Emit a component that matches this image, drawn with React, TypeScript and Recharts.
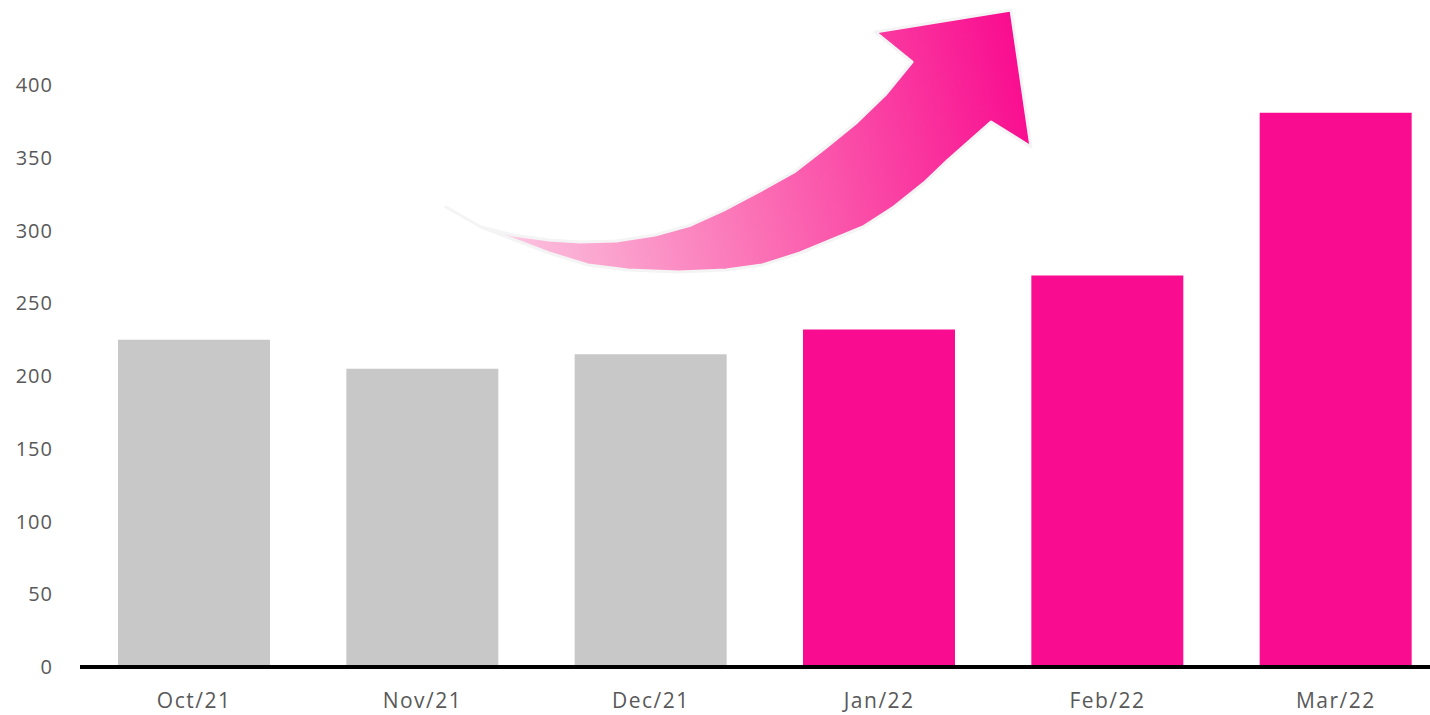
import { BarChart, Bar, XAxis, YAxis, Cell } from "recharts";

const months = ["Oct/21", "Nov/21", "Dec/21", "Jan/22", "Feb/22", "Mar/22"];
const values = [225, 205, 215, 232, 269, 381];
const barColors = ["#c8c8c8", "#c8c8c8", "#c8c8c8", "#f90c8f", "#f90c8f", "#f90c8f"];
const yTicks = [0, 50, 100, 150, 200, 250, 300, 350, 400];

const data = months.map((m, i) => ({ month: m, value: values[i] }));

// decorative arrow outline (page pixels)
const arrowPts = [
  [446, 207], [481, 227], [549, 253], [588, 265], [628, 270], [679, 272],
  [726, 270], [762, 265], [800, 253], [863, 227], [894, 207], [924, 183],
  [948, 160], [991, 122], [1031, 147], [1011, 10], [875, 32], [912, 62],
  [885, 95], [857, 122], [825, 148], [794, 172], [758, 192], [724, 210],
  [691, 225], [655, 235], [616, 241], [580, 242], [549, 240], [513, 235],
  [481, 227],
];

const xTickStyle = { fill: "#595959", fontSize: 21, fontFamily: "Open Sans", letterSpacing: 1.5 };
const yTickStyle = { fill: "#595959", fontSize: 20, fontFamily: "Open Sans", letterSpacing: 1 };

const App = () => {
  const d = "M" + arrowPts.map((p) => p.join(",")).join(" L") + " Z";
  return (
    <div
      style={{
        position: "absolute",
        left: 0,
        top: 0,
        width: 1430,
        height: 715,
        overflow: "hidden",
        background: "#fff",
      }}
    >
      <BarChart
        width={1450}
        height={715}
        data={data}
        margin={{ top: 85, right: 0, left: 0, bottom: 0 }}
      >
        <XAxis
          dataKey="month"
          height={48}
          tickLine={false}
          tickSize={0}
          tickMargin={26}
          axisLine={{ stroke: "#000", strokeWidth: 4 }}
          tick={xTickStyle}
        />
        <YAxis
          width={80}
          domain={[0, 400]}
          ticks={yTicks}
          axisLine={false}
          tickLine={false}
          tickSize={0}
          tickMargin={27}
          tick={yTickStyle}
        />
        <Bar dataKey="value" barSize={152} isAnimationActive={false}>
          {data.map((_, i) => (
            <Cell key={i} fill={barColors[i]} />
          ))}
        </Bar>
      </BarChart>
      <svg
        width={1430}
        height={715}
        style={{ position: "absolute", left: 0, top: 0, pointerEvents: "none" }}
      >
        <defs>
          <linearGradient id="arrowGrad" gradientUnits="userSpaceOnUse" x1="446" y1="230" x2="1031" y2="100">
            <stop offset="0" stopColor="#fff0f7" />
            <stop offset="0.15" stopColor="#fbb8d9" />
            <stop offset="0.5" stopColor="#fb72b6" />
            <stop offset="1" stopColor="#f90c8f" />
          </linearGradient>
        </defs>
        <path d={d} fill="url(#arrowGrad)" stroke="#f4f4f4" strokeWidth={3} strokeLinejoin="round" />
      </svg>
    </div>
  );
};

export default App;
